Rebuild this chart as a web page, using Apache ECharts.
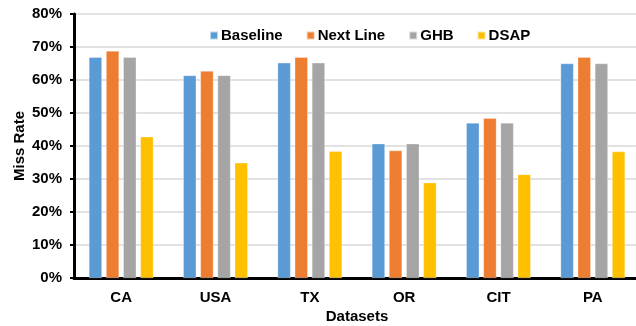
<!DOCTYPE html>
<html>
<head>
<meta charset="utf-8">
<script src="https://cdn.jsdelivr.net/npm/echarts@6/dist/echarts.min.js"></script>
<style>
  html, body { margin: 0; padding: 0; background: #fff; }
  #chart { width: 636px; height: 326px; }
</style>
</head>
<body>
<div id="chart"></div>
<script>
// Miss rate per dataset for each prefetching scheme (%)
var categories = ['CA', 'USA', 'TX', 'OR', 'CIT', 'PA'];
var seriesNames = ['Baseline', 'Next Line', 'GHB', 'DSAP'];
var baseline = [66.9, 61.4, 65.2, 40.7, 47.0, 65.0];
var nextLine = [68.8, 62.7, 66.9, 38.6, 48.4, 66.9];
var ghb      = [66.9, 61.4, 65.2, 40.7, 47.0, 65.0];
var dsap     = [42.8, 34.9, 38.4, 28.9, 31.4, 38.3];
var yTicks = { min: 0, max: 80, interval: 10 };

var colors = ['#5B9BD5', '#ED7D31', '#A5A5A5', '#FFC000'];
var font = 'Liberation Sans, Arial, sans-serif';
var values = [baseline, nextLine, ghb, dsap];

var chart = echarts.init(document.getElementById('chart'), null, { renderer: 'canvas' });

chart.setOption({
  animation: false,
  color: colors,
  textStyle: { fontFamily: font },
  legend: {
    left: 204,
    top: 23,
    itemWidth: 8,
    itemHeight: 8,
    itemGap: 23,
    icon: 'rect',
    textStyle: { fontFamily: font, fontWeight: 'bold', fontSize: 15, color: '#000', padding: [0, 0, 0, -2] },
    data: seriesNames
  },
  grid: { left: 74, right: -4, top: 14, bottom: 48, containLabel: false, outerBoundsMode: 'none' },
  xAxis: {
    type: 'category',
    data: categories,
    name: 'Datasets',
    nameLocation: 'middle',
    nameGap: 31,
    nameMoveOverlap: false,
    nameTextStyle: { fontFamily: font, fontWeight: 'bold', fontSize: 15, color: '#000' },
    axisLine: { lineStyle: { color: '#000', width: 3 } },
    axisTick: { show: false },
    axisLabel: { fontFamily: font, fontWeight: 'bold', fontSize: 15, color: '#000', margin: 12 }
  },
  yAxis: {
    type: 'value',
    min: yTicks.min,
    max: yTicks.max,
    interval: yTicks.interval,
    name: 'Miss Rate',
    nameLocation: 'middle',
    nameGap: 47,
    nameMoveOverlap: false,
    nameTextStyle: { fontFamily: font, fontWeight: 'bold', fontSize: 15, color: '#000' },
    axisLine: { show: true, lineStyle: { color: '#000', width: 3 } },
    axisTick: { show: true, length: 4, lineStyle: { color: '#000', width: 2 } },
    axisLabel: {
      fontFamily: font, fontWeight: 'bold', fontSize: 15, color: '#000', margin: 12,
      formatter: function (v) { return v + '%'; }
    },
    splitLine: { lineStyle: { color: '#D9D9D9', width: 1.5 } }
  },
  series: seriesNames.map(function (name, i) {
    return {
      name: name,
      type: 'bar',
      data: values[i],
      barWidth: 13,
      barGap: '32%',
      itemStyle: { color: colors[i], borderColor: 'rgba(255,255,255,0.6)', borderWidth: 0.5 }
    };
  })
});
</script>
</body>
</html>
